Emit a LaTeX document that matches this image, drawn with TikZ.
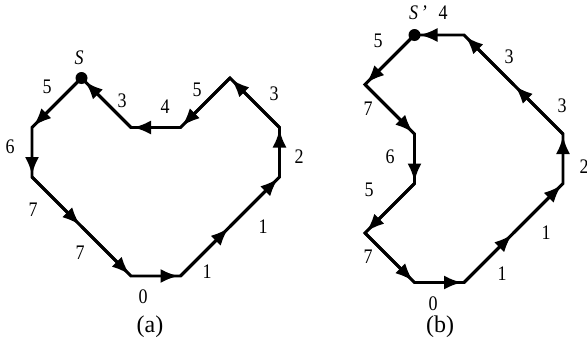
\documentclass[tikz,border=0pt]{standalone}
\usepackage{graphicx}
\usepackage{fontspec}
\setmainfont{Liberation Serif}
\usetikzlibrary{arrows.meta}
\newcommand\lbl[1]{\scalebox{1}[1.15]{#1}}
\tikzset{
  poly/.style={line width=2.9pt, line join=miter},
  seg/.style={line width=2.9pt, -{Latex[length=18pt,width=14pt]}, shorten >=2pt},
  segdot/.style={seg, shorten >=5pt},
  lab/.style={inner sep=0pt, font=\fontsize{18}{18}\selectfont},
  captext/.style={inner sep=0pt, font=\fontsize{24}{24}\selectfont},
  dot/.style={circle, fill=black, inner sep=0pt, minimum size=12pt}
}
\begin{document}
\begin{tikzpicture}[x=1pt,y=-1pt]
\useasboundingbox (0,0) rectangle (587,343);
% ---------- (a) ----------
\begin{scope}[shift={(32,78)}, x=49.5pt, y=-49.5pt]
\coordinate (S)   at (1,0);
\coordinate (a1)  at (0,1);
\coordinate (a2)  at (0,2);
\coordinate (a3)  at (1,3);
\coordinate (a4)  at (2,4);
\coordinate (a5)  at (3,4);
\coordinate (a6)  at (4,3);
\coordinate (a7)  at (5,2);
\coordinate (a8)  at (5,1);
\coordinate (a9)  at (4,0);
\coordinate (a10) at (3,1);
\coordinate (a11) at (2,1);
\end{scope}
\draw[poly] (S) -- (a1) -- (a2) -- (a3) -- (a4) -- (a5) -- (a6) -- (a7) -- (a8) -- (a9) -- (a10) -- (a11) -- cycle;
\draw[seg] (S) -- (a1);
\draw[seg] (a1) -- (a2);
\draw[seg] (a2) -- (a3);
\draw[seg] (a3) -- (a4);
\draw[seg] (a4) -- (a5);
\draw[seg] (a5) -- (a6);
\draw[seg] (a6) -- (a7);
\draw[seg] (a7) -- (a8);
\draw[seg] (a8) -- (a9);
\draw[seg] (a9) -- (a10);
\draw[seg] (a10) -- (a11);
\draw[segdot] (a11) -- (S);
\node[dot] (Sd) at (S) {};
\node[lab] (lS) at (79,58) {\lbl{\textit{S}}};
\node[lab] (la1) at (47,87) {\lbl{5}};
\node[lab] (la2) at (10,147) {\lbl{6}};
\node[lab] (la3) at (33,210) {\lbl{7}};
\node[lab] (la4) at (80,253) {\lbl{7}};
\node[lab] (la5) at (143,297) {\lbl{0}};
\node[lab] (la6) at (207,272) {\lbl{1}};
\node[lab] (la7) at (263,227) {\lbl{1}};
\node[lab] (la8) at (299,157) {\lbl{2}};
\node[lab] (la9) at (274,94) {\lbl{3}};
\node[lab] (la10) at (197,90) {\lbl{5}};
\node[lab] (la11) at (165,107) {\lbl{4}};
\node[lab] (la12) at (122,101) {\lbl{3}};
\node[captext] (capa) at (150,327) {(a)};
% ---------- (b) ----------
\begin{scope}[shift={(365,35)}, x=49.5pt, y=-49.5pt]
\coordinate (T)   at (1,0);
\coordinate (b1)  at (0,1);
\coordinate (b2)  at (1,2);
\coordinate (b3)  at (1,3);
\coordinate (b4)  at (0,4);
\coordinate (b5)  at (1,5);
\coordinate (b6)  at (2,5);
\coordinate (b7)  at (3,4);
\coordinate (b8)  at (4,3);
\coordinate (b9)  at (4,2);
\coordinate (b10) at (3,1);
\coordinate (b11) at (2,0);
\end{scope}
\draw[poly] (T) -- (b1) -- (b2) -- (b3) -- (b4) -- (b5) -- (b6) -- (b7) -- (b8) -- (b9) -- (b10) -- (b11) -- cycle;
\draw[seg] (T) -- (b1);
\draw[seg] (b1) -- (b2);
\draw[seg] (b2) -- (b3);
\draw[seg] (b3) -- (b4);
\draw[seg] (b4) -- (b5);
\draw[seg] (b5) -- (b6);
\draw[seg] (b6) -- (b7);
\draw[seg] (b7) -- (b8);
\draw[seg] (b8) -- (b9);
\draw[seg] (b9) -- (b10);
\draw[seg] (b10) -- (b11);
\draw[segdot] (b11) -- (T);
\node[dot] (Td) at (T) {};
\node[lab] (lT) at (418,13) {\lbl{\textit{S}\,\textit{’}}};
\node[lab] (lb0) at (443,13) {\lbl{4}};
\node[lab] (lb1) at (378,41) {\lbl{5}};
\node[lab] (lb2) at (368,109) {\lbl{7}};
\node[lab] (lb3) at (390,157) {\lbl{6}};
\node[lab] (lb4) at (369,190) {\lbl{5}};
\node[lab] (lb5) at (368,257) {\lbl{7}};
\node[lab] (lb6) at (433,304) {\lbl{0}};
\node[lab] (lb7) at (502,274) {\lbl{1}};
\node[lab] (lb8) at (546,233) {\lbl{1}};
\node[lab] (lb9) at (584,167) {\lbl{2}};
\node[lab] (lb10) at (562,106) {\lbl{3}};
\node[lab] (lb11) at (509,57) {\lbl{3}};
\node[captext] (capb) at (440,327) {(b)};
\end{tikzpicture}
\end{document}
